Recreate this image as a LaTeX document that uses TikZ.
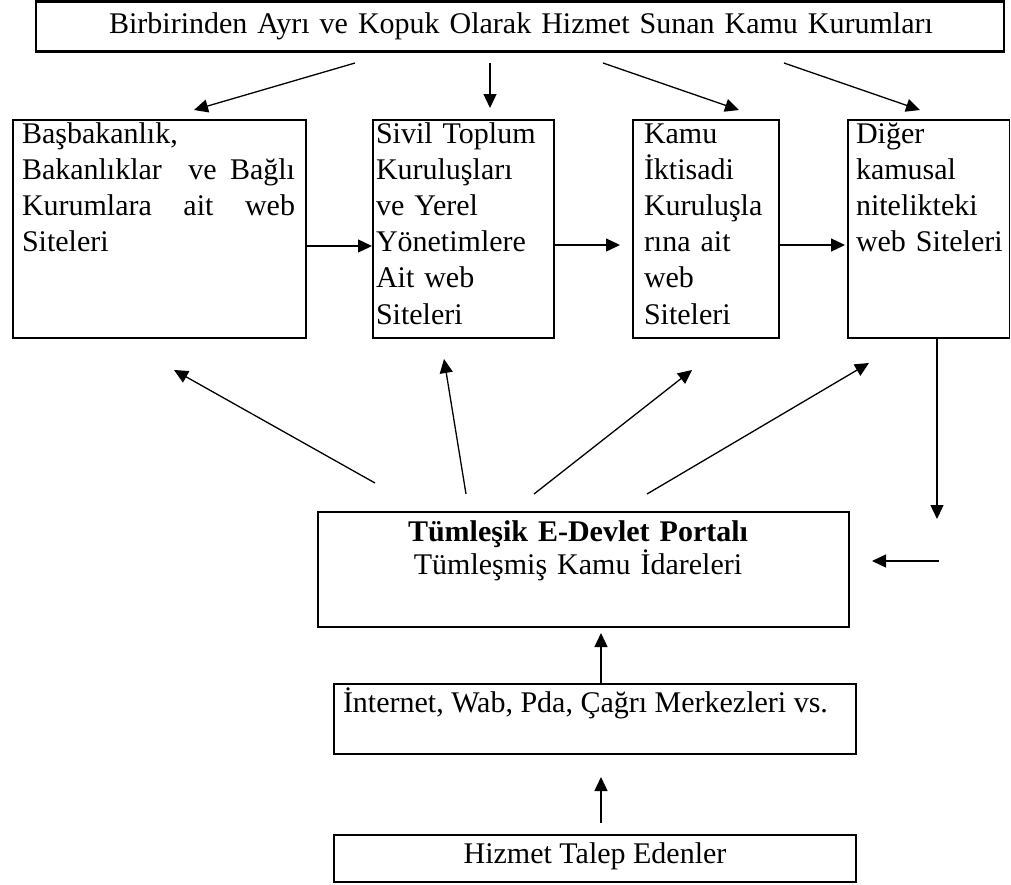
\documentclass[tikz,border=0pt]{standalone}
\usepackage{fontspec}
\setmainfont{Liberation Serif}
\usetikzlibrary{arrows.meta}

\tikzset{
  frame/.style={draw, line width=1.6pt, inner sep=0pt, outer sep=0pt, anchor=north west},
  thickframe/.style={frame, line width=2.8pt},
  midframe/.style={frame, line width=1.9pt},
  txt/.style={inner sep=0pt, outer sep=0pt, anchor=base west, align=left,
              font=\fontsize{30}{36.2}\selectfont},
  ctxt/.style={inner sep=0pt, outer sep=0pt, anchor=base, align=center,
               font=\fontsize{30}{33}\selectfont},
  arr/.style={-{Triangle[length=14pt,width=13pt]}, line width=1.3pt},
}

\begin{document}
\begin{tikzpicture}[x=1pt, y=-1pt]
\useasboundingbox (0,0) rectangle (1011,884);

% top: the separate public institutions
\node[thickframe, minimum width=968pt, minimum height=49.5pt] (top) at (36,1.6) {};
\node[ctxt, text width=960pt] (toptxt) at (521,33)
  {Birbirinden Ayrı ve Kopuk Olarak Hizmet Sunan Kamu Kurumları};

% the four groups of web sites
\node[frame, minimum width=293.3pt, minimum height=218pt] (b1) at (12.7,120) {};
\node[frame, minimum width=181pt, minimum height=218pt] (b2) at (373,120) {};
\node[frame, minimum width=146pt, minimum height=218pt] (b3) at (633,120) {};
\node[frame, minimum width=161.5pt, minimum height=218pt] (b4) at (848,120) {};

\node[txt, text width=273pt] (b1txt) at (22,143)
  {Başbakanlık,\\
   \makebox[273pt][s]{Bakanlıklar\hfill\hfill ve\hfill Bağlı}\\
   \makebox[273pt][s]{Kurumlara\hfill ait\hfill web}\\
   Siteleri};
\node[txt, text width=178pt] (b2txt) at (376,143)
  {Sivil Toplum\\Kuruluşları\\ve Yerel\\Yönetimlere\\Ait web\\Siteleri};
\node[txt, text width=135pt] (b3txt) at (644,143)
  {Kamu\\İktisadi\\Kuruluşla\\rına ait\\web\\Siteleri};
\node[txt, text width=150pt] (b4txt) at (856,143)
  {Diğer\\kamusal\\nitelikteki\\web Siteleri};

% integrated portal
\node[midframe, minimum width=531pt, minimum height=115pt] (portal) at (318,512) {};
\node[ctxt, text width=500pt] (portaltxt) at (578,541)
  {\textbf{Tümleşik E-Devlet Portalı}\\Tümleşmiş Kamu İdareleri};

% access channels
\node[midframe, minimum width=522pt, minimum height=70pt] (chan) at (334,684) {};
\node[txt] (chantxt) at (343,712)
  {İnternet, Wab, Pda, Çağrı Merkezleri vs.};

% service requesters
\node[midframe, minimum width=522pt, minimum height=47pt] (users) at (334,835) {};
\node[ctxt] (userstxt) at (595,863) {Hizmet Talep Edenler};

% arrow end points
\coordinate (t1s) at (355,63);  \coordinate (t1e) at (194,110);
\coordinate (t2s) at (490,63);  \coordinate (t2e) at (490,108);
\coordinate (t3s) at (603,63);  \coordinate (t3e) at (739,110);
\coordinate (t4s) at (784,63);  \coordinate (t4e) at (920,110);

\coordinate (h1s) at (306,246); \coordinate (h1e) at (372,246);
\coordinate (h2s) at (554,245); \coordinate (h2e) at (620,245);
\coordinate (h3s) at (779,245); \coordinate (h3e) at (845,245);

\coordinate (u1s) at (375,483); \coordinate (u1e) at (174,370);
\coordinate (u2s) at (466,494); \coordinate (u2e) at (444,359);
\coordinate (u3s) at (534,494); \coordinate (u3e) at (692,370);
\coordinate (u4s) at (647,494); \coordinate (u4e) at (869,363);

\coordinate (ds) at (937,339);  \coordinate (de) at (937,519);
\coordinate (ls) at (939,561);  \coordinate (le) at (872,561);

\coordinate (c1s) at (601,683); \coordinate (c1e) at (601,633);
\coordinate (c2s) at (601,823); \coordinate (c2e) at (601,777);

% connectors
\draw[arr] (t1s) -- (t1e);
\draw[arr] (t2s) -- (t2e);
\draw[arr] (t3s) -- (t3e);
\draw[arr] (t4s) -- (t4e);

\draw[arr] (h1s) -- (h1e);
\draw[arr] (h2s) -- (h2e);
\draw[arr] (h3s) -- (h3e);

\draw[arr] (u1s) -- (u1e);
\draw[arr] (u2s) -- (u2e);
\draw[arr] (u3s) -- (u3e);
\draw[arr] (u4s) -- (u4e);

\draw[arr] (ds) -- (de);
\draw[arr] (ls) -- (le);

\draw[arr] (c1s) -- (c1e);
\draw[arr] (c2s) -- (c2e);
\end{tikzpicture}
\end{document}
